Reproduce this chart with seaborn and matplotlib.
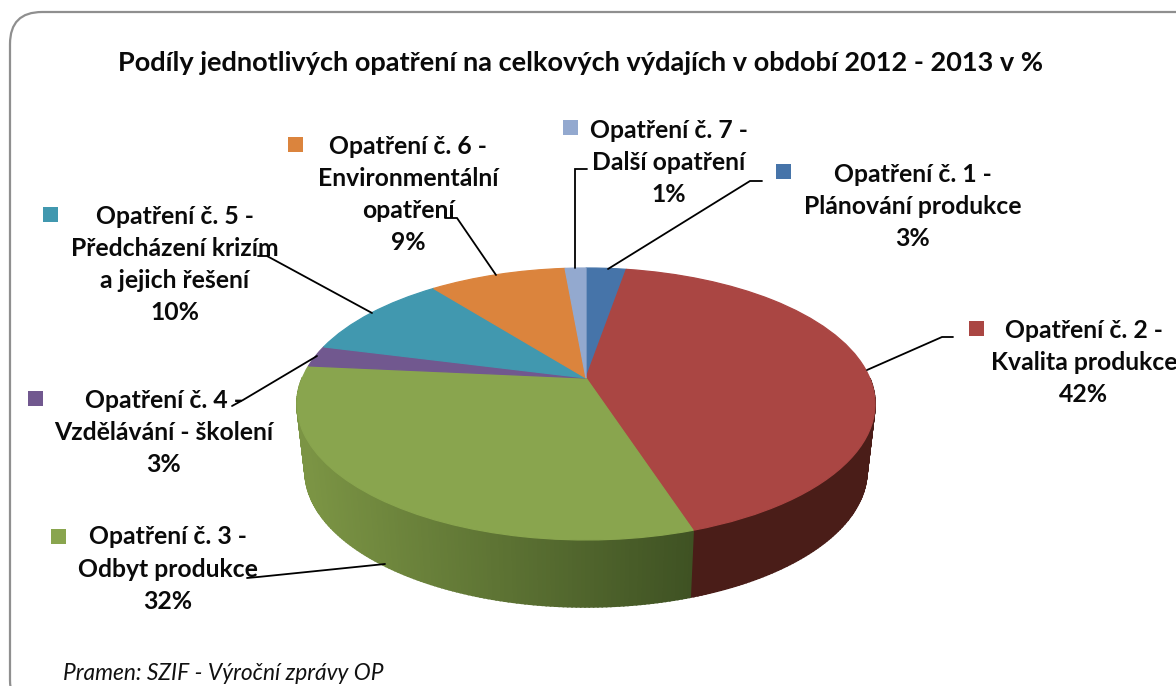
import matplotlib.pyplot as plt
from matplotlib.patches import FancyBboxPatch, Rectangle
from matplotlib.transforms import Transform
from matplotlib.colors import to_rgb
import numpy as np
import seaborn as sns

# Values (each one rounds to its printed label)
shares = [2.7, 42.3, 31.5, 2.5, 10.4, 9.2, 1.4]
colors = ['#4674A9', '#AA4643', '#89A54E', '#71588F', '#4198AF', '#DB843D', '#93A9CF']
labels = [
    ['Opatření č. 1 -', 'Plánování produkce', '3%'],
    ['Opatření č. 2 -', 'Kvalita produkce', '42%'],
    ['Opatření č. 3 -', 'Odbyt produkce', '32%'],
    ['Opatření č. 4 -', 'Vzdělávání - školení', '3%'],
    ['Opatření č. 5 -', 'Předcházení krizím', 'a jejich řešení', '10%'],
    ['Opatření č. 6 -', 'Environmentální', 'opatření', '9%'],
    ['Opatření č. 7 -', 'Další opatření', '1%'],
]
title = 'Podíly jednotlivých opatření na celkových výdajích v období 2012 - 2013 v %'
source = 'Pramen: SZIF - Výroční zprávy OP'

# Layout in image pixels
label_pos = [(913, 174), (1084, 330), (168, 537), (164, 400), (175, 216), (408, 146), (669, 130)]
key_pos = [(783, 171), (976, 328), (58, 536), (35, 398), (50, 214), (295, 144), (570, 127)]
leaders = [
    [(608, 269), (750, 181), (762, 181)],
    [(867, 370), (942, 337), (953, 337)],
    [(385, 564), (258, 577), (247, 578)],
    [(317, 356), (243, 400), (232, 406)],
    [(372, 313), (267, 256), (258, 256)],
    [(496, 275), (457, 218), (445, 218)],
    [(575, 268), (575, 169), (587, 169)],
]
LINE_STEP = 32.3
DEPTH = 67

sns.set_theme(style='white')
plt.rcParams['font.family'] = ['Lato', 'DejaVu Sans']


def project(x, y, scale=1.0, drop=0.0):
    # circle seen in perspective: centre lands above the middle of the ellipse
    d = 1 + 0.191 * y
    return 586 + scale * 283.7 * x / d, (378 - 58.8 * y) / d + drop


class Perspective(Transform):
    input_dims = 2
    output_dims = 2

    def transform_non_affine(self, values):
        values = np.asarray(values)
        px, py = project(values[:, 0], values[:, 1])
        return np.column_stack([px, py])


fig, ax = plt.subplots(figsize=(11.76, 6.86), dpi=100)
ax.set_position([0, 0, 1, 1])

wedges, _ = ax.pie(shares, colors=colors, startangle=90, counterclock=False,
                   wedgeprops={'linewidth': 0.9})
for w in wedges:
    w.set_edgecolor(w.get_facecolor())
    w.set_transform(Perspective() + ax.transData)
    w.set_zorder(3)

ax.set_aspect('auto')
ax.set_xlim(0, 1176)
ax.set_ylim(686, 0)
ax.axis('off')

# Frame
ax.add_patch(FancyBboxPatch((10, 12), 1200, 700, boxstyle='round,pad=0,rounding_size=32',
                            fc='white', ec='#8f8f8f', lw=1.6, zorder=0))

# Side wall, built in thin strips; the back half stays hidden
edges = np.cumsum([0] + shares) / sum(shares) * 2 * np.pi
for i, col in enumerate(colors):
    angles = np.linspace(edges[i], edges[i + 1], max(3, int(shares[i] * 5)))
    for a0, a1 in zip(angles[:-1], angles[1:]):
        xs = np.sin([a0, a1])
        ys = np.cos([a0, a1])
        if ys.mean() > 0:
            continue
        tx, ty = project(xs, ys)
        bx, by = project(xs, ys, scale=0.972, drop=DEPTH)
        if i == 2:
            # green side gets lighter to the left
            t = np.clip((692 - tx.mean()) / 385, 0, 1)
            shade = np.array(to_rgb('#3F5223')) * (1 - t) + np.array(to_rgb('#7B9444')) * t
        else:
            shade = np.array(to_rgb('#4A1D18'))
        ax.fill(np.r_[tx, bx[::-1]], np.r_[ty, by[::-1]], color=shade, lw=1.2, zorder=1)

# Legend keys
for (kx, ky), col in zip(key_pos, colors):
    ax.add_patch(Rectangle((kx - 7.5, ky - 7.5), 15, 15, fc=col, ec='none', zorder=4))

# Labels
for lines, (lx, ly) in zip(labels, label_pos):
    for n, line in enumerate(lines):
        ax.text(lx, ly + n * LINE_STEP, line, ha='center', va='center', fontsize=17.8,
                fontweight='bold', color='#0a0a0a', zorder=5)

for pts in leaders:
    ax.plot(*zip(*pts), color='black', lw=1.3, zorder=6, solid_joinstyle='miter')

ax.text(580, 63, title, ha='center', va='center', fontsize=19.55, fontweight='bold', color='#0a0a0a')
ax.text(63, 673, source, ha='left', va='center', fontsize=16.4, style='italic', color='#111111')

plt.savefig('out.png', dpi=100)
